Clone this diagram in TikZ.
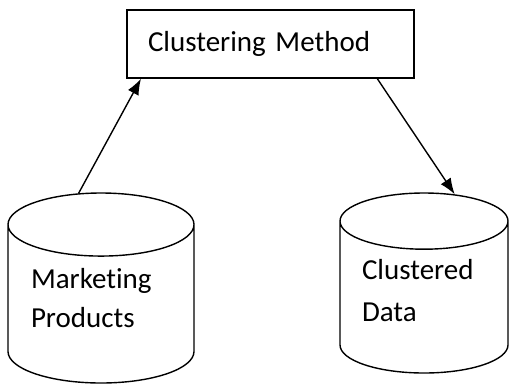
\documentclass[tikz,border=0pt]{standalone}
\usepackage{fontspec}
\setmainfont{Carlito}[Ligatures=NoCommon]
\usetikzlibrary{arrows.meta,shapes.geometric}

\begin{document}
\begin{tikzpicture}[x=1pt,y=-1pt,->,>={Latex[length=16pt,width=12pt]},
                line width=1.4pt,
                box node/.style={rectangle,draw,minimum width=287pt,minimum height=68pt,
                  text width=245pt,align=left,font=\fontsize{29}{36}\selectfont},
                db node/.style={cylinder,draw,shape border rotate=90,align=left,
                  anchor=shape center,font=\fontsize{29}{39}\selectfont}]
  \useasboundingbox (0,0) rectangle (510,384);

  \node[box node] (1) at (270.5,44) {Clustering Method};
  \node[db node,minimum width=186pt,minimum height=190pt,aspect=0.43,
        text width=140pt] (2) at (101,288) {Marketing\\Products\vspace{20pt}};
  \node[db node,minimum width=168pt,minimum height=180pt,aspect=0.43,
        text width=124pt] (3) at (424,283) {Clustered\\[3pt]Data\vspace{22pt}};

  \path
    (2.101) edge (1.195)
    (1.342) edge (3.74);
\end{tikzpicture}
\end{document}
